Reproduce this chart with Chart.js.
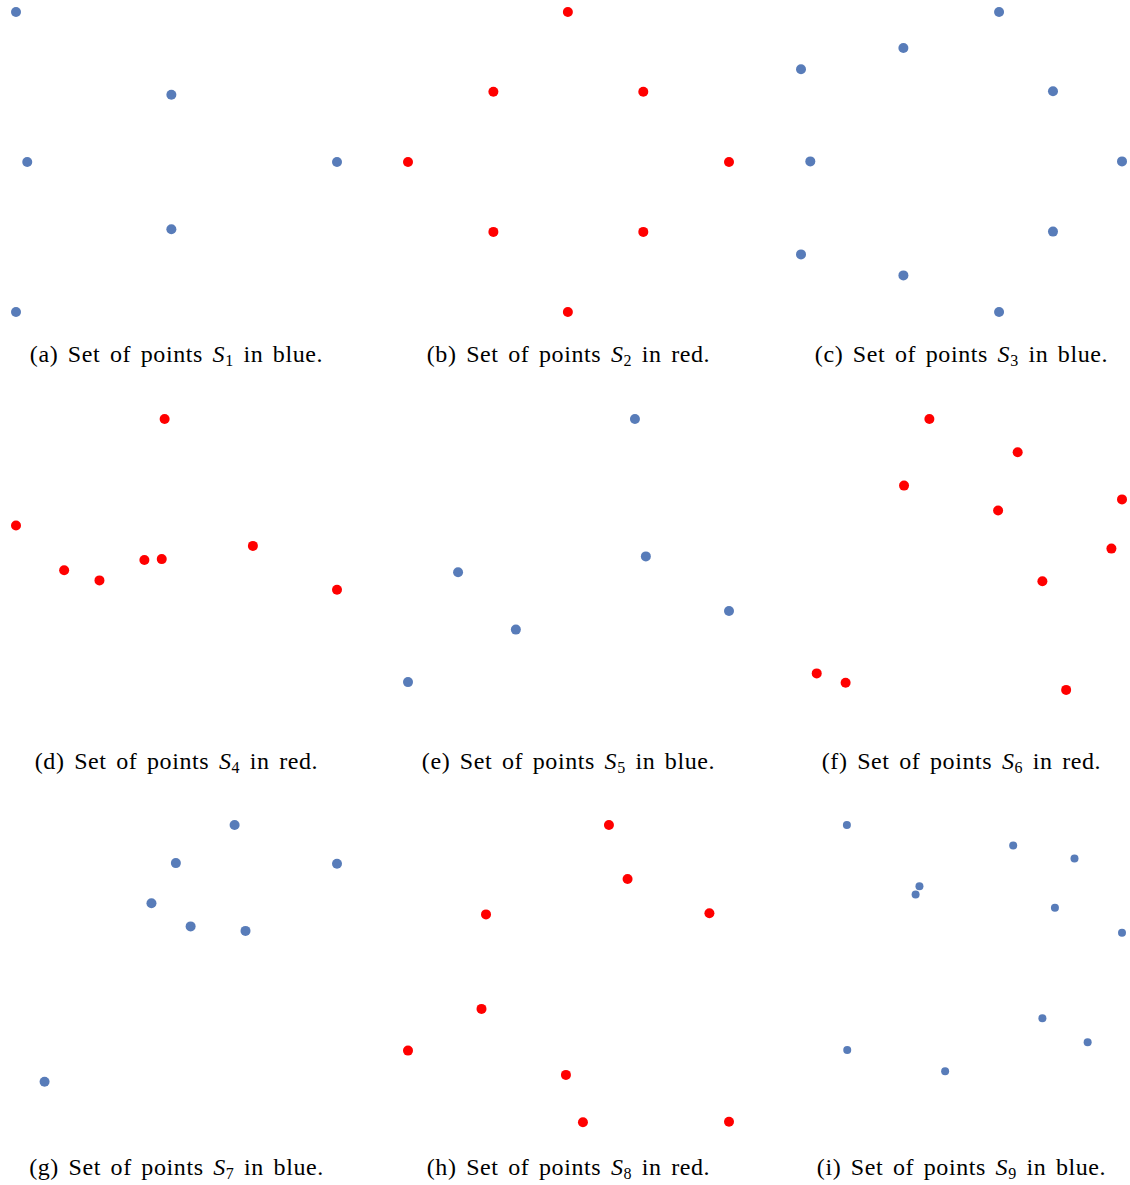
<!DOCTYPE html>
<html>
<head>
<meta charset="utf-8">
<script src="https://cdn.jsdelivr.net/npm/chart.js@4.4.0/dist/chart.umd.min.js"></script>
<style>
  body { margin: 0; background: #fff; width: 1130px; height: 1185px; overflow: hidden; position: relative; }
  canvas { position: absolute; }
  .caption {
    position: absolute; width: 345px; text-align: center; white-space: nowrap;
    font-family: "Liberation Serif", serif; font-size: 24px; line-height: 24px; color: #000;
    letter-spacing: 0.6px; word-spacing: 3px;
  }
  .caption sub { font-size: 16px; vertical-align: baseline; position: relative; top: 4px; }
</style>
</head>
<body>
<div id="figure"></div>
<script>
// point sets, in percent of each panel's box (y up)
const s1x = [0, 48.4, 3.5, 100, 48.4, 0]
const s1y = [100, 72.4, 50, 50, 27.6, 0]

const s2x = [49.8, 26.6, 73.3, 0, 100, 26.6, 73.3, 49.8]
const s2y = [100, 73.4, 73.4, 50, 50, 26.7, 26.7, 0]

const s3x = [61.7, 31.9, 0, 78.5, 2.9, 100, 78.5, 0, 31.9, 61.7]
const s3y = [100, 88, 80.9, 73.6, 50.2, 50.2, 26.8, 19.2, 12.2, 0]

const s4x = [46.3, 0, 15.0, 26.0, 40.0, 45.4, 73.8, 100]
const s4y = [100, 64.5, 49.6, 46.2, 53.0, 53.3, 57.7, 43.1]

const s5x = [70.7, 74.1, 15.6, 100, 33.6, 0]
const s5y = [100, 54.2, 48.9, 36, 29.8, 12.3]

const s6x = [40.0, 67.5, 32.1, 100, 61.4, 96.7, 75.2, 4.9, 13.9, 82.6]
const s6y = [100, 88.9, 77.8, 73.2, 69.5, 56.8, 45.9, 15.2, 12.1, 9.7]

const s7x = [68.1, 49.8, 100, 42.2, 54.4, 71.5, 8.9]
const s7y = [100, 87.3, 87.1, 73.9, 66.2, 64.7, 14.4]

const s8x = [62.6, 68.4, 24.3, 93.9, 22.9, 0, 49.2, 54.5, 100]
const s8y = [100, 82, 70.2, 70.6, 38.7, 24.8, 16.7, 0.9, 1.1]

const s9x = [14.3, 66.1, 85.2, 36.9, 35.7, 79.1, 100, 75.2, 89.3, 14.4, 44.9]
const s9y = [100, 93.2, 88.8, 79.6, 76.8, 72.4, 64.1, 35.6, 27.6, 25, 17.9]

const panelLetters = ['a', 'b', 'c', 'd', 'e', 'f', 'g', 'h', 'i']
const colourNames = ['blue', 'red', 'blue', 'red', 'blue', 'red', 'blue', 'red', 'blue']

const xs = [s1x, s2x, s3x, s4x, s5x, s6x, s7x, s8x, s9x]
const ys = [s1y, s2y, s3y, s4y, s5y, s6y, s7y, s8y, s9y]

const colours = { blue: '#587cb9', red: '#ff0000' }
const colLeft = [4, 396, 789]
const rowTop = [0, 407, 813]

const figure = document.getElementById('figure')

function makePanel(i) {
  const col = i % 3
  const row = Math.floor(i / 3)

  const canvas = document.createElement('canvas')
  canvas.width = 345
  canvas.height = 324
  canvas.style.left = colLeft[col] + 'px'
  canvas.style.top = rowTop[row] + 'px'
  figure.appendChild(canvas)

  const points = xs[i].map((x, k) => ({x: x, y: ys[i][k]}))

  new Chart(canvas, {
    type: 'scatter',
    data: {
      datasets: [{
        data: points,
        pointRadius: i === 8 ? 4 : 5,
        pointHoverRadius: i === 8 ? 4 : 5,
        pointBackgroundColor: colours[colourNames[i]],
        pointBorderWidth: 0,
        showLine: false,
        clip: false
      }]
    },
    options: {
      responsive: false,
      animation: false,
      events: [],
      layout: { padding: 12 },
      plugins: {
        legend: { display: false },
        tooltip: { enabled: false }
      },
      scales: {
        x: { type: 'linear', display: false, min: 0, max: 100 },
        y: { type: 'linear', display: false, min: 0, max: 100 }
      }
    }
  })

  const cap = document.createElement('div')
  cap.className = 'caption'
  cap.style.left = colLeft[col] + 'px'
  cap.style.top = (rowTop[row] + 342) + 'px'
  cap.innerHTML = '(' + panelLetters[i] + ') Set of points <i>S</i><sub>' + (i + 1) + '</sub> in ' + colourNames[i] + '.'
  figure.appendChild(cap)
}

for (let i = 0; i < 9; i++) {
  makePanel(i)
}
</script>
</body>
</html>
